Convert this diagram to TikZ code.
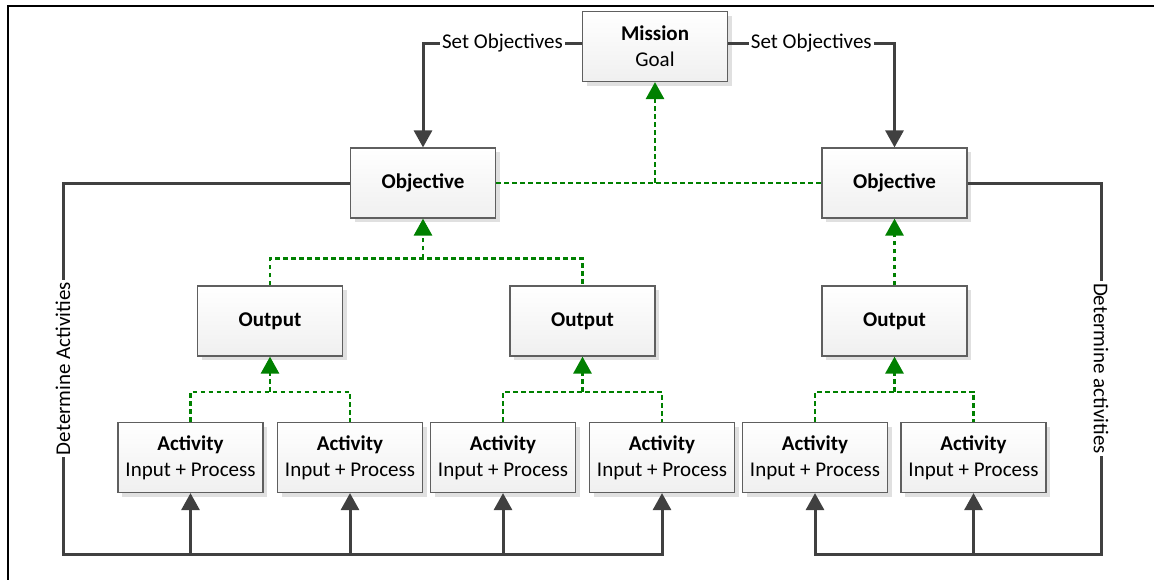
\documentclass[tikz,border=0pt]{standalone}
\usepackage{fontspec}
\setmainfont{Carlito}
\usepackage{tikz}
\usetikzlibrary{arrows.meta, positioning, calc, shadows}

\definecolor{linegray}{RGB}{64,64,64}
\definecolor{boxgray}{RGB}{95,95,95}
\definecolor{dotgreen}{RGB}{0,128,0}

\begin{document}
\begin{tikzpicture}[
          x=0.5pt, y=-0.5pt,
          box/.style={rectangle, draw=boxgray, line width=0.6pt,
            top color=white, bottom color=black!6,
            minimum width=72.5pt, minimum height=35pt, align=center,
            font=\fontsize{10.5pt}{13pt}\selectfont,
            drop shadow={shadow xshift=2pt, shadow yshift=-2pt, fill=black!12, opacity=1}},
          lbl/.style={fill=white, inner sep=1pt, font=\fontsize{10.5pt}{13pt}\selectfont},
          link/.style={draw=linegray, line width=1.5pt},
          dots/.style={draw=dotgreen, line width=1.4pt, dash pattern=on 2.4pt off 1.6pt},
          >={Triangle[width=9pt,length=8.5pt]}
        ]
        \clip (0,0) rectangle (1154,579);
        \draw[line width=1pt] (8,600) -- (8,6) -- (1170,6);

        % boxes
        \node[box] (mission) at (655,46.5) {\textbf{Mission}\\Goal};
        \node[box] (obj1) at (423,183) {\textbf{Objective}};
        \node[box] (obj2) at (894.5,183) {\textbf{Objective}};
        \node[box] (out1) at (270,321) {\textbf{Output}};
        \node[box] (out2) at (582.5,321) {\textbf{Output}};
        \node[box] (out3) at (894.5,321) {\textbf{Output}};
        \foreach \x [count=\i] in {190.5,350,503,662,815,973.5}
          \node[box] (act\i) at (\x,457.5) {\textbf{Activity}\\Input + Process};

        \coordinate (fbl) at (63,554);
        \coordinate (fbr) at (1101,554);

        % mission down to objectives
        \draw[link,->] ([yshift=1.5pt]mission.west) -| (obj1.north) node[pos=0.25,lbl] {Set Objectives};
        \draw[link,->] ([yshift=1.5pt]mission.east) -| (obj2.north) node[pos=0.25,lbl] {Set Objectives};

        % results up
        \draw[dots] (obj1.east) -- (obj2.west);
        \draw[dots,->] (mission.south |- obj1.east) -- (mission.south);
        \draw[dots] (out1.north) -- ++(0,-27) coordinate (jo) -| (out2.north);
        \draw[dots,->] (obj1.south |- jo) -- (obj1.south);
        \draw[dots,->] (out3.north) -- (obj2.south);
        \foreach \a/\b/\o in {1/2/1, 3/4/2, 5/6/3} {
          \draw[dots] (act\a.north) -- ++(0,-30) coordinate (ja\o) -| (act\b.north);
          \draw[dots,->] (out\o.south |- ja\o) -- (out\o.south);
        }

        % objectives back to activities
        \draw[link,->] (obj1.west) -| (fbl)
          node[pos=0.75,lbl,rotate=90] {Determine Activities} -| (act4.south);
        \foreach \i in {1,2,3}
          \draw[link,->] (act\i.south |- fbl) -- (act\i.south);
        \draw[link,->] (obj2.east) -| (fbr)
          node[pos=0.75,lbl,rotate=-90] {Determine activities} -| (act5.south);
        \draw[link,->] (act6.south |- fbr) -- (act6.south);
\end{tikzpicture}
\end{document}
